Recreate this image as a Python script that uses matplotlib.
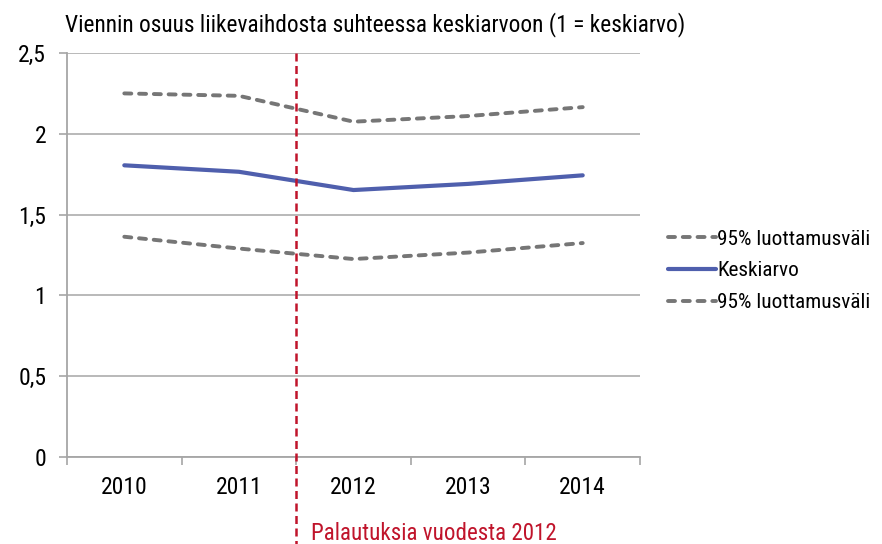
import numpy as np
import matplotlib.pyplot as plt
import matplotlib.transforms as mtransforms

plt.rcParams['font.family'] = ['Roboto Condensed', 'Lato', 'DejaVu Sans']

years = ['2010', '2011', '2012', '2013', '2014']
upper = [2.25, 2.235, 2.075, 2.11, 2.165]   # 95% upper bound
mean = [1.805, 1.765, 1.652, 1.69, 1.743]   # Keskiarvo
lower = [1.363, 1.29, 1.225, 1.265, 1.324]  # 95% lower bound

title = 'Viennin osuus liikevaihdosta suhteessa keskiarvoon (1 = keskiarvo)'
note = 'Palautuksia vuodesta 2012'

fig = plt.figure(figsize=(8.82, 5.44), dpi=100)
ax = fig.add_axes([67/882, 87/544, 573/882, 404/544])

x = np.arange(len(years))
grey = '#767676'
blue = '#4F5FAD'
red = '#C0142B'

ax.plot(x, upper, color=grey, lw=2.8, dashes=(1.8, 2.0), dash_capstyle='round',
        label='95% luottamusväli')
ax.plot(x, mean, color=blue, lw=3.0, solid_capstyle='round', label='Keskiarvo')
ax.plot(x, lower, color=grey, lw=2.8, dashes=(1.8, 2.0), dash_capstyle='round',
        label='95% luottamusväli')

ax.set_xlim(-0.5, len(years) - 0.5)
ax.set_ylim(0, 2.5)
ax.set_yticks([0, 0.5, 1, 1.5, 2, 2.5])
ax.set_yticklabels(['0', '0,5', '1', '1,5', '2', '2,5'])
ax.set_xticks(x)
ax.set_xticklabels(years)
ax.set_xticks(np.arange(-0.5, len(years)), minor=True)
ax.tick_params(axis='x', which='major', length=0, pad=14, labelsize=17)
ax.tick_params(axis='x', which='minor', length=6, color='#a6a6a6', width=1.2)
ax.tick_params(axis='y', length=6, color='#a6a6a6', width=1.2, pad=9, labelsize=17)
ax.yaxis.grid(True, color='#b3b3b3', lw=1.3)
ax.set_axisbelow(True)
for s in ['top', 'right']:
    ax.spines[s].set_visible(False)
for s in ['left', 'bottom']:
    ax.spines[s].set_color('#a6a6a6')
    ax.spines[s].set_linewidth(1.3)

# red divider between 2011 and 2012, running below the axis
trans = mtransforms.blended_transform_factory(ax.transData, fig.transFigure)
ax.plot([1.5, 1.5], [491/544, 0], transform=trans, color=red, lw=1.8,
        dashes=(3.2, 1.8), clip_on=False, zorder=5)
fig.text(311/882, 1 - 533/544, note, color=red, fontsize=16.6, va='center', ha='left')

fig.text(65/882, 1 - 25/544, title, fontsize=16.8, va='center', ha='left')

fig.legend(loc='center left', bbox_to_anchor=(649/882, 1 - 271/544), frameon=False,
           fontsize=15.3, handlelength=2.25, handletextpad=0.05, labelspacing=0.6)

fig.savefig('out.png', dpi=100)
